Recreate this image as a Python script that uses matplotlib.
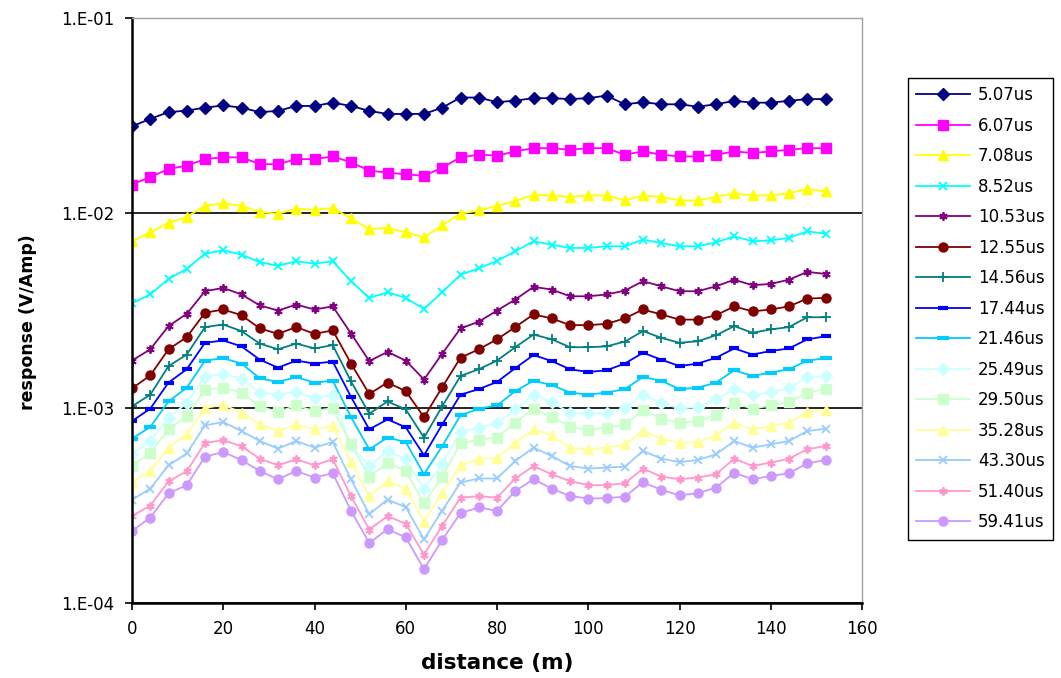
import matplotlib
matplotlib.use("Agg")
import matplotlib.pyplot as plt
from matplotlib.ticker import FixedLocator, NullLocator, FixedFormatter

plt.rcParams['font.family'] = ['DejaVu Sans']

distance = list(range(0, 153, 4))

labels = ["5.07us", "6.07us", "7.08us", "8.52us", "10.53us", "12.55us", "14.56us",
          "17.44us", "21.46us", "25.49us", "29.50us", "35.28us", "43.30us", "51.40us", "59.41us"]

s_5_07 = [0.0278, 0.0304, 0.0329, 0.0335, 0.0347, 0.0356, 0.0347, 0.0329, 0.0334, 0.0354,
          0.0354, 0.0368, 0.0354, 0.0334, 0.0322, 0.0322, 0.0322, 0.0347, 0.0391, 0.0391,
          0.0370, 0.0377, 0.0388, 0.0388, 0.0384, 0.0388, 0.0400, 0.0361, 0.0370, 0.0361,
          0.0361, 0.0351, 0.0361, 0.0376, 0.0368, 0.0368, 0.0376, 0.0384, 0.0384]
s_6_07 = [0.0140, 0.0153, 0.0168, 0.0175, 0.0189, 0.0193, 0.0193, 0.0178, 0.0178, 0.0189,
          0.0189, 0.0195, 0.0182, 0.0165, 0.0161, 0.0158, 0.0155, 0.0171, 0.0193, 0.0199,
          0.0197, 0.0207, 0.0215, 0.0215, 0.0211, 0.0215, 0.0215, 0.0199, 0.0207, 0.0199,
          0.0195, 0.0195, 0.0199, 0.0207, 0.0203, 0.0207, 0.0211, 0.0215, 0.0215]
s_7_08 = [0.00716, 0.00796, 0.00889, 0.00954, 0.0109, 0.0112, 0.0109, 0.0101, 0.00992, 0.0105,
          0.0104, 0.0106, 0.00938, 0.00828, 0.00838, 0.00796, 0.00750, 0.00864, 0.00992, 0.0103,
          0.0109, 0.0115, 0.0124, 0.0123, 0.0121, 0.0123, 0.0123, 0.0116, 0.0123, 0.0121,
          0.0116, 0.0116, 0.0121, 0.0126, 0.0123, 0.0123, 0.0126, 0.0133, 0.0129]
s_8_52 = [0.00344, 0.00382, 0.00459, 0.00517, 0.00619, 0.00643, 0.00612, 0.00559, 0.00537, 0.00565,
          0.00550, 0.00565, 0.00447, 0.00367, 0.00392, 0.00367, 0.00322, 0.00392, 0.00483, 0.00520,
          0.00568, 0.00636, 0.00716, 0.00688, 0.00662, 0.00662, 0.00675, 0.00675, 0.00730, 0.00702,
          0.00675, 0.00675, 0.00707, 0.00759, 0.00716, 0.00724, 0.00745, 0.00805, 0.00783]
s_10_53 = [0.00175, 0.00200, 0.00263, 0.00304, 0.00397, 0.00413, 0.00382, 0.00336, 0.00316, 0.00339,
           0.00320, 0.00332, 0.00241, 0.00174, 0.00194, 0.00175, 0.00140, 0.00190, 0.00256, 0.00277,
           0.00316, 0.00360, 0.00418, 0.00405, 0.00374, 0.00374, 0.00382, 0.00400, 0.00447, 0.00421,
           0.00397, 0.00397, 0.00421, 0.00455, 0.00426, 0.00433, 0.00455, 0.00499, 0.00487]
s_12_55 = [0.00126, 0.00147, 0.00200, 0.00231, 0.00308, 0.00320, 0.00299, 0.00256, 0.00240, 0.00260,
           0.00240, 0.00250, 0.00169, 0.00118, 0.00135, 0.00122, 0.000897, 0.00128, 0.00181, 0.00200,
           0.00225, 0.00260, 0.00302, 0.00288, 0.00266, 0.00266, 0.00270, 0.00288, 0.00320, 0.00302,
           0.00284, 0.00284, 0.00299, 0.00332, 0.00313, 0.00320, 0.00332, 0.00364, 0.00367]
s_14_56 = [0.00102, 0.00117, 0.00164, 0.00188, 0.00260, 0.00268, 0.00248, 0.00214, 0.00200, 0.00214,
           0.00202, 0.00210, 0.00137, 0.000935, 0.00108, 0.000984, 0.000705, 0.00102, 0.00146, 0.00158,
           0.00175, 0.00205, 0.00238, 0.00225, 0.00205, 0.00205, 0.00207, 0.00219, 0.00248, 0.00229,
           0.00216, 0.00220, 0.00236, 0.00263, 0.00243, 0.00253, 0.00260, 0.00292, 0.00292]
s_17_44 = [0.000857, 0.000992, 0.00135, 0.00158, 0.00216, 0.00222, 0.00207, 0.00177, 0.00161, 0.00175,
           0.00169, 0.00173, 0.00114, 0.000777, 0.000874, 0.000796, 0.000572, 0.000824, 0.00117, 0.00125,
           0.00136, 0.00160, 0.00187, 0.00174, 0.00158, 0.00153, 0.00156, 0.00169, 0.00192, 0.00177,
           0.00164, 0.00169, 0.00181, 0.00202, 0.00188, 0.00196, 0.00202, 0.00225, 0.00233]
s_21_46 = [0.000697, 0.000799, 0.00108, 0.00127, 0.00175, 0.00180, 0.00169, 0.00142, 0.00136, 0.00144,
           0.00135, 0.00138, 0.000898, 0.000614, 0.000705, 0.000669, 0.000457, 0.000638, 0.000917, 0.000992,
           0.00103, 0.00122, 0.00138, 0.00131, 0.00120, 0.00117, 0.00120, 0.00125, 0.00144, 0.00138,
           0.00125, 0.00127, 0.00135, 0.00156, 0.00146, 0.00152, 0.00158, 0.00175, 0.00180]
s_25_49 = [0.000579, 0.000677, 0.000892, 0.00106, 0.00145, 0.00150, 0.00141, 0.00120, 0.00117, 0.00121,
           0.00112, 0.00117, 0.000638, 0.000505, 0.000602, 0.000546, 0.000385, 0.000517, 0.000753, 0.000793,
           0.000834, 0.000984, 0.00117, 0.00107, 0.000946, 0.000946, 0.000938, 0.00100, 0.00117, 0.00106,
           0.000995, 0.00101, 0.00111, 0.00125, 0.00116, 0.00121, 0.00126, 0.00144, 0.00146]
s_29_50 = [0.000504, 0.000590, 0.000777, 0.000909, 0.00124, 0.00127, 0.00120, 0.00102, 0.000953, 0.00103,
           0.000964, 0.00100, 0.000651, 0.000445, 0.000522, 0.000475, 0.000325, 0.000445, 0.000659, 0.000688,
           0.000705, 0.000841, 0.000992, 0.000903, 0.000802, 0.000771, 0.000793, 0.000824, 0.000976, 0.000882,
           0.000841, 0.000857, 0.000917, 0.00106, 0.000992, 0.00103, 0.00107, 0.00120, 0.00125]
s_35_28 = [0.000417, 0.000475, 0.000626, 0.000733, 0.00100, 0.00104, 0.000946, 0.000824, 0.000762, 0.000824,
           0.000777, 0.000808, 0.000528, 0.000353, 0.000420, 0.000386, 0.000260, 0.000368, 0.000508, 0.000548,
           0.000553, 0.000664, 0.000777, 0.000724, 0.000626, 0.000614, 0.000626, 0.000651, 0.000762, 0.000697,
           0.000659, 0.000669, 0.000724, 0.000841, 0.000777, 0.000808, 0.000841, 0.000953, 0.000976]
s_43_30 = [0.000338, 0.000386, 0.000508, 0.000585, 0.000815, 0.000847, 0.000762, 0.000677, 0.000619, 0.000677,
           0.000626, 0.000669, 0.000431, 0.000285, 0.000339, 0.000310, 0.000212, 0.000298, 0.000415, 0.000435,
           0.000435, 0.000535, 0.000626, 0.000567, 0.000504, 0.000489, 0.000495, 0.000500, 0.000602, 0.000550,
           0.000528, 0.000541, 0.000579, 0.000677, 0.000626, 0.000651, 0.000677, 0.000762, 0.000783]
s_51_40 = [0.000279, 0.000316, 0.000420, 0.000475, 0.000661, 0.000685, 0.000636, 0.000550, 0.000508, 0.000546,
           0.000508, 0.000546, 0.000353, 0.000238, 0.000279, 0.000255, 0.000177, 0.000249, 0.000347, 0.000353,
           0.000347, 0.000435, 0.000504, 0.000457, 0.000422, 0.000402, 0.000402, 0.000411, 0.000489, 0.000445,
           0.000431, 0.000440, 0.000457, 0.000550, 0.000504, 0.000525, 0.000550, 0.000614, 0.000638]
s_59_41 = [0.000234, 0.000274, 0.000365, 0.000402, 0.000563, 0.000595, 0.000541, 0.000475, 0.000431, 0.000475,
           0.000440, 0.000463, 0.000297, 0.000203, 0.000239, 0.000217, 0.000149, 0.000211, 0.000289, 0.000309,
           0.000297, 0.000375, 0.000431, 0.000386, 0.000354, 0.000343, 0.000345, 0.000351, 0.000417, 0.000380,
           0.000357, 0.000365, 0.000391, 0.000466, 0.000431, 0.000448, 0.000463, 0.000520, 0.000541]

series = [s_5_07, s_6_07, s_7_08, s_8_52, s_10_53, s_12_55, s_14_56, s_17_44,
          s_21_46, s_25_49, s_29_50, s_35_28, s_43_30, s_51_40, s_59_41]

colors = ["#000080", "#FF00FF", "#FFFF00", "#00FFFF", "#800080", "#800000", "#008080",
          "#0000FF", "#00CCFF", "#CCFFFF", "#CCFFCC", "#FFFF99", "#99CCFF", "#FF99CC", "#CC99FF"]
asterisk = (6, 2, 0)
markers = ["D", "s", "^", "x", asterisk, "o", "+", "_", "_", "D", "s", "^", "x", asterisk, "o"]
msizes = [6, 6.5, 7, 6, 6, 6.5, 7, 7, 9, 6, 6.5, 7, 6, 6, 6.5]

fig = plt.figure(figsize=(10.61, 6.78), dpi=100)
ax = fig.add_axes([132 / 1061, 1 - 603 / 678, 730 / 1061, 585 / 678])

for y, lab, c, m, ms in zip(series, labels, colors, markers, msizes):
    filled = m in ("D", "s", "^", "o")
    if m == "_":
        mew = 3.0
    elif filled:
        mew = 1.0
    else:
        mew = 1.3
    ax.plot(distance, y, color=c, linewidth=1.3, marker=m, markersize=ms,
            markerfacecolor=c, markeredgecolor=c, markeredgewidth=mew, label=lab)

ax.set_yscale("log")
ax.set_ylim(1e-4, 1e-1)
ax.set_xlim(0, 160)
ax.yaxis.set_major_locator(FixedLocator([1e-4, 1e-3, 1e-2, 1e-1]))
ax.yaxis.set_major_formatter(FixedFormatter(["1.E-04", "1.E-03", "1.E-02", "1.E-01"]))
ax.yaxis.set_minor_locator(NullLocator())
ax.set_xticks(range(0, 161, 20))
ax.grid(axis="y", which="major", color="black", linewidth=1.2)
ax.set_axisbelow(True)

for side in ("left", "bottom"):
    ax.spines[side].set_color("black")
    ax.spines[side].set_linewidth(1.8)
for side in ("right", "top"):
    ax.spines[side].set_color("#A0A0A0")
    ax.spines[side].set_linewidth(1.0)

ax.tick_params(axis="both", direction="out", length=5, width=1.2, labelsize=12, colors="black")
ax.tick_params(axis="y", pad=8)
ax.tick_params(axis="x", pad=7)

fig.text(497 / 1061, 1 - 663 / 678, "distance (m)", fontsize=15.5, fontweight="bold",
         ha="center", va="center")
fig.text(28 / 1061, 1 - 322 / 678, "response (V/Amp)", fontsize=12.5, fontweight="bold",
         ha="center", va="center", rotation=90)

leg = fig.legend(loc="upper left", bbox_to_anchor=(908 / 1061, 1 - 78 / 678), fontsize=12,
                 frameon=True, fancybox=False, edgecolor="black", framealpha=1,
                 handlelength=3.2, labelspacing=0.75, borderpad=0.5, handletextpad=0.5,
                 borderaxespad=0)
leg.get_frame().set_linewidth(1.0)

fig.savefig("out.png", dpi=100)
